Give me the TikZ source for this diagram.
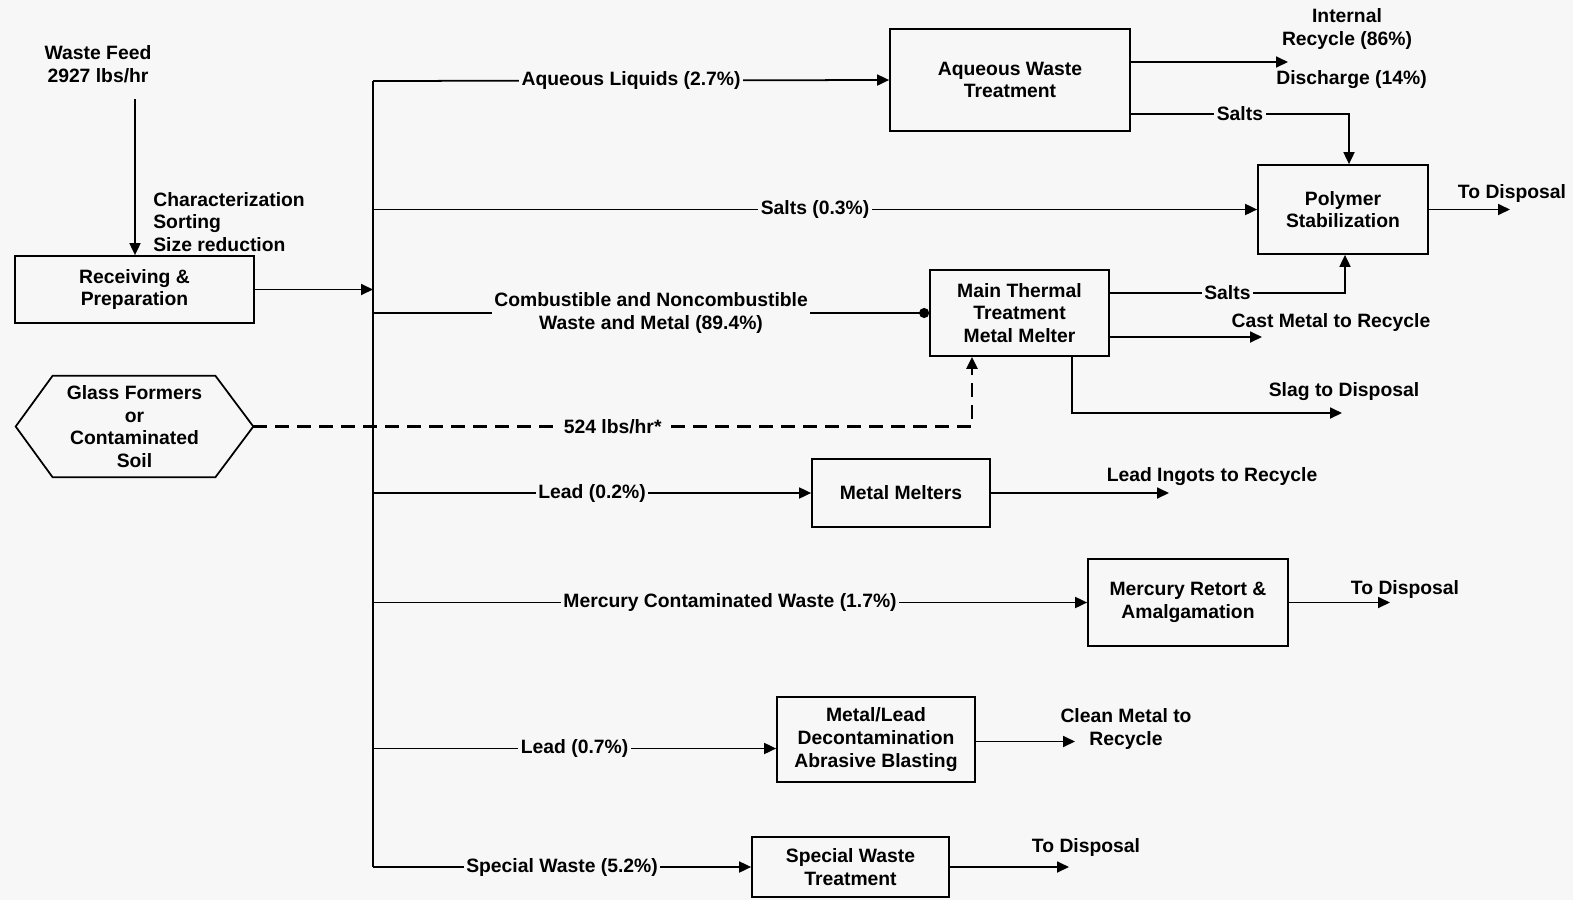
\documentclass[tikz,border=0pt]{standalone}
\usepackage{fontspec}
\setmainfont{Liberation Sans}
\usepackage{xcolor}
\definecolor{pagebg}{RGB}{247,247,247}
\usetikzlibrary{arrows.meta, positioning, calc}

\begin{document}
\begin{tikzpicture}[
  x=0.02cm, y=-0.02cm,
  font=\fontsize{11}{12.9}\selectfont\bfseries,
  proc/.style={rectangle, draw, line width=1pt, align=center, inner sep=2pt},
  lbl/.style={fill=pagebg, inner sep=1.5pt, align=center},
  txt/.style={align=center, inner sep=0pt},
  flow/.style={line width=1pt, -{Triangle[length=0.24cm, width=0.22cm]}},
  flowdot/.style={line width=1pt, -{Circle[length=0.2cm]}},
  feedline/.style={line width=1.3pt, dash pattern=on 0.28cm off 0.16cm,
                   -{Triangle[length=0.24cm, width=0.22cm]}}
]
\fill[pagebg] (0,0) rectangle (1573,900);
\useasboundingbox (0,0) rectangle (1573,900);

% Feed and preparation
\node[txt] (feed) at (98,64) {Waste Feed\\2927 lbs/hr};
\coordinate (feedtop) at (135,99);
\node[proc, minimum width=4.78cm, minimum height=1.34cm] (recv) at (134.5,289.5) {Receiving \&\\Preparation};
\node[txt, align=left, anchor=west] (prep) at (153,222) {Characterization\\Sorting\\Size reduction};
\draw[flow] (feedtop) -- (feedtop |- recv.north);

% Glass formers
\node[txt, minimum width=4.74cm, minimum height=2.02cm] (glass) at (134.5,426.5) {Glass Formers\\or\\Contaminated\\Soil};
\draw[line width=1pt] (glass.west) -- ($(glass.north west)+(37,0)$) -- ($(glass.north east)+(-38,0)$)
  -- (glass.east) -- ($(glass.south east)+(-38,0)$) -- ($(glass.south west)+(37,0)$) -- cycle;

% Treatment units
\node[proc, minimum width=4.8cm, minimum height=2.04cm] (aqueous) at (1010,80) {Aqueous Waste\\Treatment};
\node[proc, minimum width=3.4cm, minimum height=1.78cm] (polymer) at (1343,209.5) {Polymer\\Stabilization};
\node[proc, minimum width=3.58cm, minimum height=1.72cm] (thermal) at (1019.5,313) {Main Thermal\\Treatment\\Metal Melter};
\node[proc, minimum width=3.56cm, minimum height=1.36cm] (melters) at (901,493) {Metal Melters};
\node[proc, minimum width=4cm, minimum height=1.74cm] (mercury) at (1188,602.5) {Mercury Retort \&\\Amalgamation};
\node[proc, minimum width=3.96cm, minimum height=1.7cm] (decon) at (876,739.5) {Metal/Lead\\Decontamination\\Abrasive Blasting};
\node[proc, minimum width=3.94cm, minimum height=1.2cm] (special) at (850.5,867) {Special Waste\\Treatment};

% Distribution bus
\coordinate (bus) at (373,81);
\draw[line width=1pt] (bus) -- (bus |- special.west);
\draw[flow] (recv.east) -- (recv.east -| bus);

% Branches
\draw[flow] (bus) -- node[lbl] {Aqueous Liquids (2.7\%)} (aqueous.west);
\draw[flow] (bus |- polymer.west) -- node[lbl] {Salts (0.3\%)} (polymer.west);
\draw[flowdot] (bus |- thermal.west) -- node[lbl] {Combustible and Noncombustible\\Waste and Metal (89.4\%)} (thermal.west);
\draw[flow] (bus |- melters.west) -- node[lbl] {Lead (0.2\%)} (melters.west);
\draw[flow] (bus |- mercury.west) -- node[lbl] {Mercury Contaminated Waste (1.7\%)} (mercury.west);
\draw[flow] ([yshift=-0.18cm]decon.west -| bus) -- node[lbl] {Lead (0.7\%)} ([yshift=-0.18cm]decon.west);
\draw[flow] (bus |- special.west) -- node[lbl] {Special Waste (5.2\%)} (special.west);
\draw[feedline] (glass.east) -| node[lbl, pos=0.25] {524 lbs/hr*} ([xshift=-0.95cm]thermal.south);

% Aqueous outputs
\coordinate (recyc) at (1288,62);
\draw[flow] (aqueous.east |- recyc) -- (recyc);
\node[txt] (recyclbl) at (1347,29) {Internal\\Recycle (86\%)};
\node[txt, anchor=west] (dischlbl) at (1276,80) {Discharge (14\%)};
\draw[flow] ([yshift=-0.68cm]aqueous.east) -| node[lbl, pos=0.25] {Salts} ([xshift=0.12cm]polymer.north);

% Polymer output
\coordinate (disp1) at (1510,209.5);
\draw[flow] (polymer.east) -- (disp1);
\node[txt] (disp1lbl) at (1512,193) {To Disposal};

% Thermal outputs
\draw[flow] ([yshift=0.4cm]thermal.east) -| node[lbl, pos=0.25] {Salts} ([xshift=0.04cm]polymer.south);
\coordinate (castend) at (1262,337);
\draw[flow] (thermal.east |- castend) -- (castend);
\node[txt] (castlbl) at (1331,322) {Cast Metal to Recycle};
\coordinate (slagend) at (1342,413);
\draw[flow] ([xshift=1.05cm]thermal.south) |- (slagend);
\node[txt] (slaglbl) at (1344,392) {Slag to Disposal};

% Other outputs
\coordinate (ingots) at (1169,493);
\draw[flow] (melters.east) -- (ingots);
\node[txt] (ingotslbl) at (1212,477) {Lead Ingots to Recycle};
\coordinate (hgend) at (1390,602.5);
\draw[flow] (mercury.east) -- (hgend);
\node[txt] (hglbl) at (1405,589) {To Disposal};
\coordinate (cleanend) at (1075,741.5);
\draw[flow] (decon.east |- cleanend) -- (cleanend);
\node[txt] (cleanlbl) at (1126,729) {Clean Metal to\\Recycle};
\coordinate (spend) at (1069,867);
\draw[flow] (special.east) -- (spend);
\node[txt] (splbl) at (1086,847) {To Disposal};
\end{tikzpicture}
\end{document}
